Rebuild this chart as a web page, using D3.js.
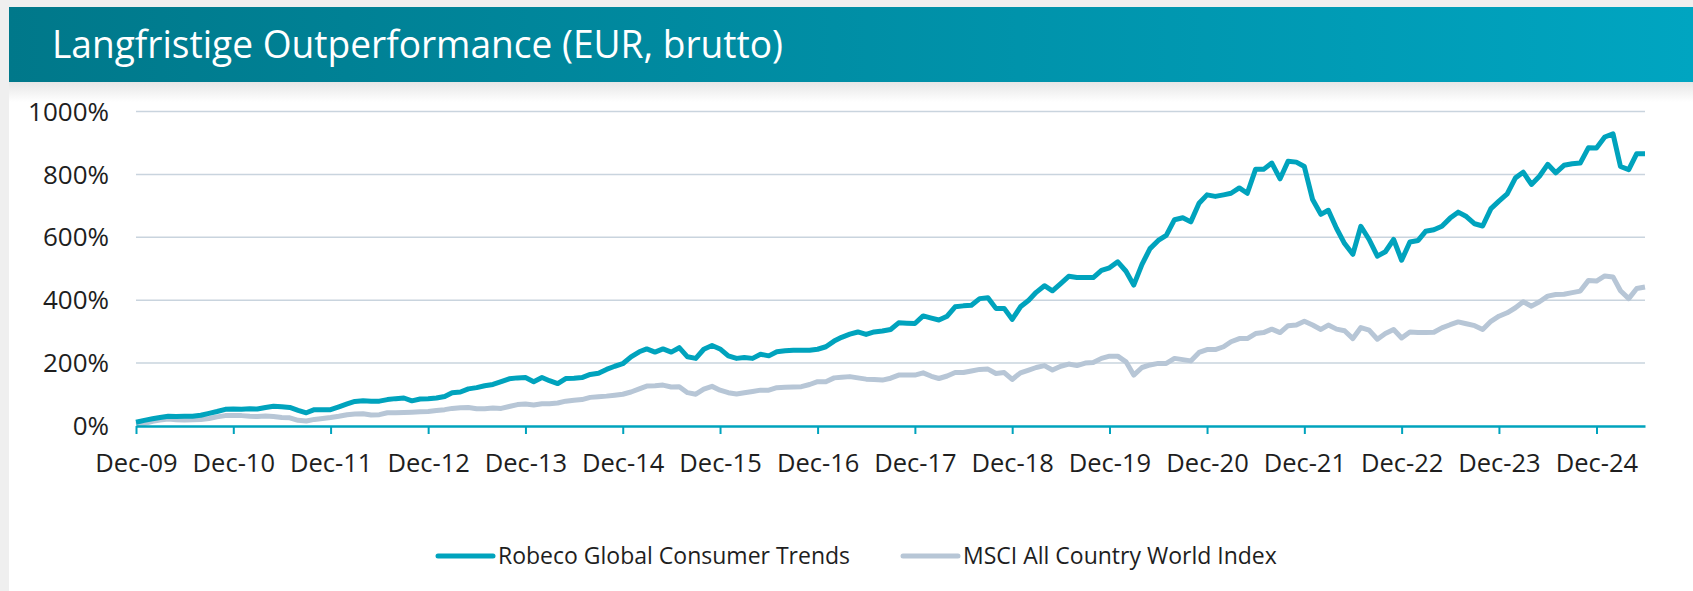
<!DOCTYPE html>
<html>
<head>
<meta charset="utf-8">
<script src="https://cdn.jsdelivr.net/npm/d3@7"></script>
<style>
  body { margin: 0; background: #fff; }
  svg { display: block; font-family: "Open Sans", sans-serif; }
</style>
</head>
<body>
<svg id="chart"></svg>
<script>
// monthly values, Dec-09 .. Jun-25 (cumulative performance in %)
const robeco = [
  12, 18, 23, 27, 31, 30, 31, 31, 34, 40,
  46, 53, 54, 53, 55, 54, 59, 63, 61, 59,
  50, 42, 52, 52, 52, 61, 70, 78, 80, 79,
  79, 84, 87, 89, 80, 86, 87, 89, 94, 106,
  108, 118, 122, 128, 132, 141, 150, 153, 154, 141,
  154, 144, 135, 151, 152, 154, 164, 168, 180, 190,
  198, 220, 236, 245, 235, 245, 235, 249, 220, 215,
  244, 256, 245, 223, 215, 218, 215, 228, 223, 236,
  239, 241, 241, 241, 244, 252, 270, 282, 292, 299,
  291, 299, 302, 307, 328, 327, 326, 350, 343, 337,
  349, 379, 382, 384, 405, 408, 374, 374, 339, 379,
  400, 425, 446, 430, 453, 476, 472, 472, 472, 495,
  503, 522, 492, 448, 514, 564, 590, 606, 656, 662,
  649, 708, 735, 730, 735, 740, 757, 740, 816, 816,
  836, 786, 842, 839, 825, 720, 673, 686, 628, 580,
  546, 635, 593, 540, 554, 593, 527, 585, 590, 619,
  624, 635, 661, 680, 666, 643, 636, 691, 715, 738,
  789, 807, 768, 794, 832, 805, 829, 834, 836, 885,
  884, 919, 929, 825, 815, 866, 866
];
const msci = [
  5, 8, 15, 19, 22, 20, 19, 20, 21, 24,
  29, 33, 33, 33, 31, 30, 32, 30, 27, 26,
  18, 16, 21, 24, 27, 31, 36, 38, 39, 35,
  36, 42, 42, 43, 44, 45, 46, 49, 52, 56,
  58, 59, 55, 55, 57, 56, 62, 68, 70, 67,
  71, 71, 73, 79, 82, 84, 91, 93, 95, 98,
  101, 108, 118, 127, 128, 130, 124, 125, 106, 101,
  117, 126, 114, 106, 102, 106, 110, 114, 114, 122,
  123, 124, 125, 132, 141, 141, 153, 155, 157, 153,
  149, 148, 146, 152, 162, 162, 162, 169, 158, 151,
  159, 170, 170, 175, 180, 181, 167, 170, 148, 169,
  178, 186, 192, 178, 190, 197, 192, 200, 202, 215,
  222, 222, 204, 162, 186, 194, 199, 199, 215, 211,
  207, 234, 243, 243, 252, 268, 278, 278, 294, 297,
  308, 297, 319, 321, 333, 321, 307, 321, 308, 303,
  278, 313, 305, 276, 294, 307, 280, 299, 297, 297,
  298, 312, 322, 331, 325, 319, 307, 333, 349, 360,
  376, 395, 381, 395, 413, 418, 419, 424, 429, 463,
  461, 477, 474, 430, 405, 437, 442
];
const seriesNames = ["Robeco Global Consumer Trends", "MSCI All Country World Index"];
const seriesColors = ["#00a3bd", "#b7c6d6"];
const tickLabels = ["Dec-09", "Dec-10", "Dec-11", "Dec-12", "Dec-13", "Dec-14", "Dec-15", "Dec-16",
  "Dec-17", "Dec-18", "Dec-19", "Dec-20", "Dec-21", "Dec-22", "Dec-23", "Dec-24"];
const yTicks = [0, 200, 400, 600, 800, 1000];
const titleText = "Langfristige Outperformance (EUR, brutto)";

const width = 1693;
const height = 591;

const months = d3.timeMonth.range(new Date(2009, 11, 1), new Date(2025, 6, 1));
const tickDates = tickLabels.map((d, i) => new Date(2009 + i, 11, 1));

const svg = d3.select("#chart").attr("width", width).attr("height", height);

// page frame + header band
svg.append("rect").attr("width", width).attr("height", height).attr("fill", "#fff");
svg.append("rect").attr("width", 9).attr("height", height).attr("fill", "#efefef");
svg.append("rect").attr("width", width).attr("height", 7).attr("fill", "#efefef");

const defs = svg.append("defs");
const grad = defs.append("linearGradient").attr("id", "hdr").attr("x1", 0).attr("x2", 1).attr("y1", 0).attr("y2", 0);
grad.append("stop").attr("offset", "0%").attr("stop-color", "#00788a");
grad.append("stop").attr("offset", "100%").attr("stop-color", "#00a5c1");
const shade = defs.append("linearGradient").attr("id", "shade").attr("x1", 0).attr("x2", 0).attr("y1", 0).attr("y2", 1);
shade.append("stop").attr("offset", "0%").attr("stop-color", "#e6e6e6");
shade.append("stop").attr("offset", "100%").attr("stop-color", "#ffffff");

svg.append("rect").attr("x", 9).attr("y", 82).attr("width", width - 9).attr("height", 20).attr("fill", "url(#shade)");
svg.append("rect").attr("x", 9).attr("y", 7).attr("width", width - 9).attr("height", 75).attr("fill", "url(#hdr)");

// title: a bit condensed, like the original narrow font
svg.append("text")
  .attr("x", 52)
  .attr("y", 58)
  .attr("fill", "#fff")
  .attr("textLength", 731)
  .attr("lengthAdjust", "spacingAndGlyphs")
  .style("font-size", "39px")
  .text(titleText);

// scales
const x = d3.scaleTime().domain([months[0], months[months.length - 1]]).range([136, 1645]);
const y = d3.scaleLinear().domain([0, 1000]).range([426, 111.5]);

// gridlines
svg.append("g")
  .selectAll("line")
  .data(yTicks.filter((d) => d > 0))
  .enter()
  .append("line")
  .attr("x1", 136)
  .attr("x2", 1645)
  .attr("y1", (d) => y(d))
  .attr("y2", (d) => y(d))
  .attr("stroke", "#c9d4de")
  .attr("stroke-width", 1.5);

// y labels
svg.append("g")
  .selectAll("text")
  .data(yTicks)
  .enter()
  .append("text")
  .attr("x", 109)
  .attr("y", (d) => y(d))
  .attr("dy", "0.35em")
  .attr("text-anchor", "end")
  .attr("fill", "#1e1e1e")
  .style("font-size", "26px")
  .text((d) => d + "%");

// lines
const line = d3.line()
  .x((d, i) => x(months[i]))
  .y((d) => y(d));

[msci, robeco].forEach((values, k) => {
  svg.append("path")
    .datum(values)
    .attr("fill", "none")
    .attr("stroke", k === 0 ? seriesColors[1] : seriesColors[0])
    .attr("stroke-width", 5)
    .attr("stroke-linejoin", "round")
    .attr("d", line);
});

// x axis
const xAxis = d3.axisBottom(x)
  .tickValues(tickDates)
  .tickFormat((d, i) => tickLabels[i])
  .tickSizeInner(8)
  .tickSizeOuter(0)
  .tickPadding(20);

const gx = svg.append("g").attr("transform", "translate(0,426)").call(xAxis);
gx.select(".domain").attr("stroke", "#00a3bd").attr("stroke-width", 2.5);
gx.selectAll(".tick line").attr("stroke", "#00a3bd").attr("stroke-width", 2);
gx.selectAll(".tick text")
  .attr("fill", "#1e1e1e")
  .style("font-size", "25.5px")
  .style("font-family", "'Open Sans', sans-serif");

// legend
const legendX = [438, 903];
seriesNames.forEach((name, i) => {
  const g = svg.append("g").attr("transform", `translate(${legendX[i]},556)`);
  g.append("line")
    .attr("x1", 0)
    .attr("x2", 55)
    .attr("stroke", seriesColors[i])
    .attr("stroke-width", 5)
    .attr("stroke-linecap", "round");
  g.append("text")
    .attr("x", 60)
    .attr("y", 8)
    .attr("fill", "#1e1e1e")
    .style("font-size", "23px")
    .text(name);
});
</script>
</body>
</html>
